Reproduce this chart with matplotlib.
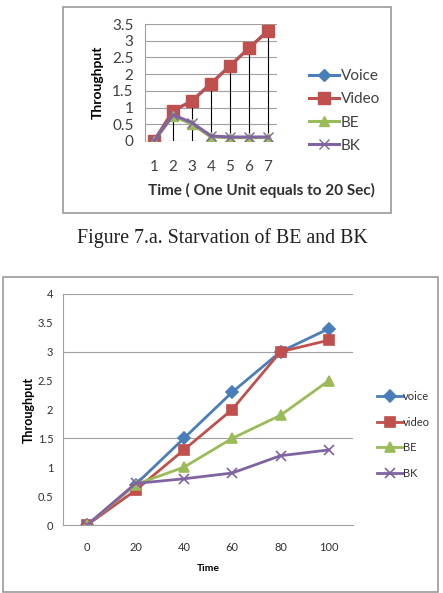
import matplotlib.pyplot as plt
from matplotlib.patches import Rectangle
import numpy as np

W, H = 443, 593

# top chart (Figure 7.a)
top_x = [1, 2, 3, 4, 5, 6, 7]
top_voice = [0, 0.9, 1.2, 1.72, 2.25, 2.78, 3.3]
top_video = [0, 0.9, 1.2, 1.72, 2.25, 2.78, 3.3]
top_be = [0, 0.75, 0.5, 0.12, 0.1, 0.1, 0.1]
top_bk = [0, 0.78, 0.55, 0.15, 0.12, 0.12, 0.12]

# bottom chart
bot_time = [0, 20, 40, 60, 80, 100]
bot_voice = [0, 0.7, 1.5, 2.3, 3.0, 3.4]
bot_video = [0, 0.6, 1.3, 2.0, 3.0, 3.2]
bot_be = [0, 0.7, 1.0, 1.5, 1.9, 2.5]
bot_bk = [0, 0.72, 0.8, 0.9, 1.2, 1.3]

BLUE = "#4a7ebb"
RED = "#c0504d"
GREEN = "#9bbb59"
PURPLE = "#8064a2"
FONT = "Lato"


def px_axes(fig, x0, y0, x1, y1):
    # pixel box (top-down) -> figure axes
    return fig.add_axes([x0 / W, 1 - y1 / H, (x1 - x0) / W, (y1 - y0) / H])


def px_box(fig, x0, y0, x1, y1):
    fig.patches.append(Rectangle((x0 / W, 1 - y1 / H), (x1 - x0) / W, (y1 - y0) / H,
                                 transform=fig.transFigure, fill=False,
                                 edgecolor="#9a9a9a", linewidth=1.2))


fig = plt.figure(figsize=(W / 100, H / 100), dpi=100)

# ---- top chart ----
px_box(fig, 63, 7, 391, 213)
ax1 = px_axes(fig, 144.5, 24, 277.5, 141)
series = [("Voice", top_voice, BLUE, "D", 6),
          ("Video", top_video, RED, "s", 8.5),
          ("BE", top_be, GREEN, "^", 7),
          ("BK", top_bk, PURPLE, "x", 7)]
for name, vals, col, mk, ms in series:
    ax1.plot(top_x, vals, color=col, marker=mk, markersize=ms, linewidth=2.2,
             markeredgecolor=col, label=name, zorder=3 if name != "Voice" else 2)
tops = np.max([top_voice, top_video, top_be, top_bk], axis=0)
ax1.vlines(top_x, 0, tops, color="black", linewidth=0.8, zorder=1)
ax1.set_xlim(0.5, 7.5)
ax1.set_ylim(0, 3.5)
ax1.set_xticks(top_x)
ax1.set_yticks(np.arange(0, 3.51, 0.5))
ax1.set_yticklabels(["0", "0.5", "1", "1.5", "2", "2.5", "3", "3.5"])
ax1.yaxis.grid(True, color="#a0a0a0", linewidth=0.8)
ax1.set_axisbelow(True)
for s in ["top", "right", "bottom"]:
    ax1.spines[s].set_visible(False)
ax1.spines["left"].set_color("#a0a0a0")
ax1.tick_params(length=0, labelsize=11, colors="#404040", pad=8)
ax1.tick_params(axis="x", pad=14)
for t in ax1.get_xticklabels() + ax1.get_yticklabels():
    t.set_fontfamily(FONT)
ax1.set_ylabel("Throughput", fontsize=10, fontweight="bold", fontfamily=FONT, labelpad=6)
fig.text(261 / W, 1 - 190 / H, "Time ( One Unit equals to 20 Sec)", ha="center",
         va="center", fontsize=11, fontweight="bold", fontfamily=FONT, color="#303030")
ax1.legend(loc="center left", bbox_to_anchor=(301 / W, 1 - 111 / H),
           bbox_transform=fig.transFigure, frameon=False, handlelength=2.0,
           handletextpad=0.1, labelspacing=0.6, borderpad=0,
           prop={"family": FONT, "size": 11}, labelcolor="#404040")

fig.text(222 / W, 1 - 238 / H, "Figure 7.a. Starvation of BE and BK", ha="center",
         va="center", fontsize=14.3, fontfamily="Liberation Serif", color="#202020")

# ---- bottom chart ----
px_box(fig, 3, 277, 438, 592)
ax2 = px_axes(fig, 63, 294, 353, 525)
xi = np.arange(len(bot_time))
series = [("voice", bot_voice, BLUE, "D", 6),
          ("video", bot_video, RED, "s", 7),
          ("BE", bot_be, GREEN, "^", 7),
          ("BK", bot_bk, PURPLE, "x", 7)]
for name, vals, col, mk, ms in series:
    ax2.plot(xi, vals, color=col, marker=mk, markersize=ms, linewidth=2,
             markeredgecolor=col, markeredgewidth=1.2, label=name)
ax2.set_xlim(-0.5, 5.5)
ax2.set_ylim(0, 4)
ax2.set_xticks(xi)
ax2.set_xticklabels([str(t) for t in bot_time])
ax2.set_yticks(np.arange(0, 4.01, 0.5))
ax2.set_yticklabels(["0", "0.5", "1", "1.5", "2", "2.5", "3", "3.5", "4"])
for g in [1.5, 3, 4]:
    ax2.axhline(g, color="#a0a0a0", linewidth=0.8, zorder=0)
for s in ["top", "right"]:
    ax2.spines[s].set_visible(False)
ax2.spines["left"].set_color("#a0a0a0")
ax2.spines["bottom"].set_color("#a0a0a0")
ax2.tick_params(length=0, labelsize=8, colors="#303030", pad=7)
ax2.tick_params(axis="x", pad=12)
for t in ax2.get_xticklabels() + ax2.get_yticklabels():
    t.set_fontfamily(FONT)
ax2.set_ylabel("Throughput", fontsize=9, fontweight="bold", fontfamily=FONT, labelpad=2)
ax2.set_xlabel("Time", fontsize=7.5, fontweight="bold", fontfamily=FONT, labelpad=8)
ax2.legend(loc="center left", bbox_to_anchor=(371 / W, 1 - 435 / H),
           bbox_transform=fig.transFigure, frameon=False, handlelength=2.4,
           handletextpad=0.0, labelspacing=1.3, borderpad=0,
           prop={"family": FONT, "size": 8}, labelcolor="#303030")

fig.savefig("out.png", dpi=100)
